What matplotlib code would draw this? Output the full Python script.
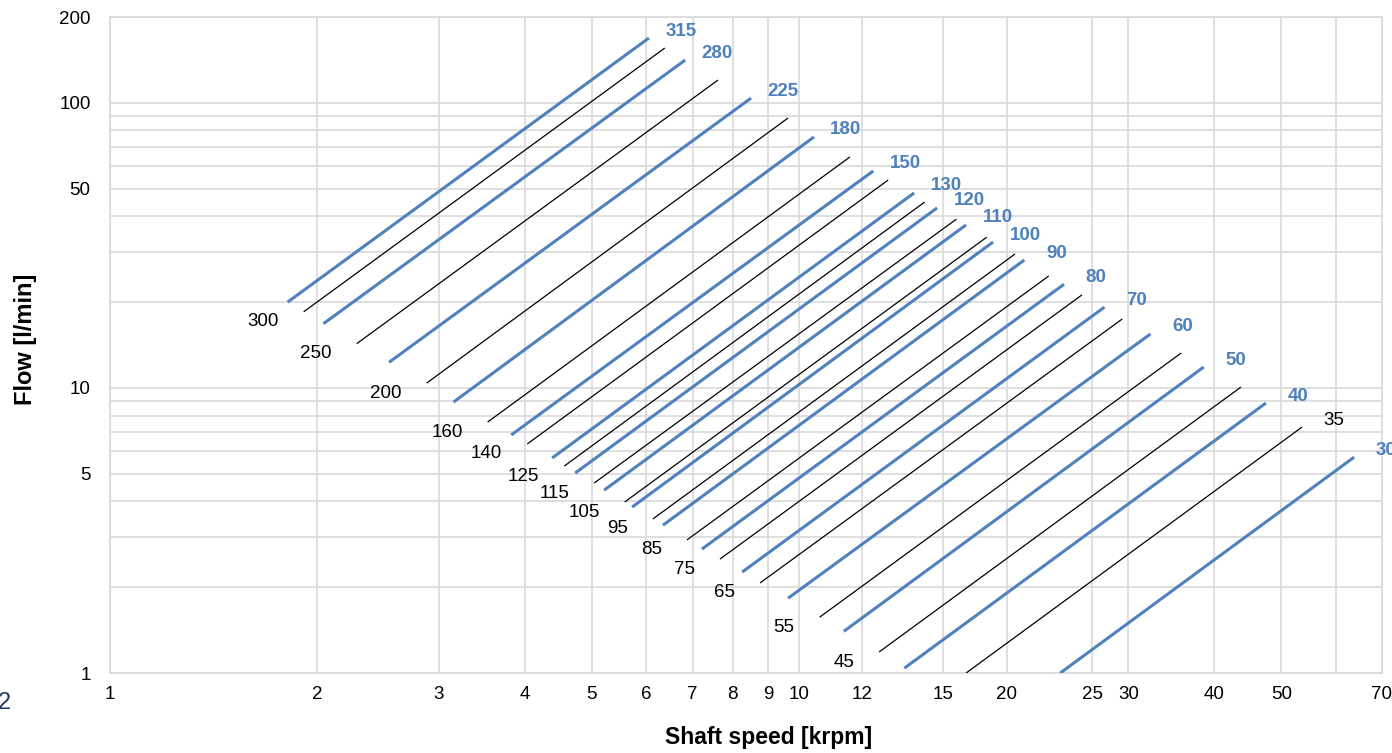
import matplotlib.pyplot as plt
from matplotlib.ticker import NullLocator

plt.rcParams['font.family'] = ['Liberation Sans', 'DejaVu Sans']

# pump sizes, one line each (left to right)
sizes = [315, 300, 280, 250, 225, 200, 180, 160, 150, 140, 130, 125, 120, 115, 110, 105,
         100, 95, 90, 85, 80, 75, 70, 65, 60, 55, 50, 45, 40, 35, 30]
# True -> thick blue line labelled at the top end, False -> thin black line
main_size = [True, False, True, False, True, False, True, False, True, False, True, False,
             True, False, True, False, True, False, True, False, True, False, True, False,
             True, False, True, False, True, False, True]
# label at the upper end ('end') or at the lower end ('start')
label_at = ['end', 'start', 'end', 'start', 'end', 'start', 'end', 'start', 'end', 'start',
            'end', 'start', 'end', 'start', 'end', 'start', 'end', 'start', 'end', 'start',
            'end', 'start', 'end', 'start', 'end', 'start', 'end', 'start', 'end', 'end', 'end']

# lower end of each line: shaft speed [krpm], flow [l/min]
start_speed = [1.81, 1.91, 2.04, 2.28, 2.54, 2.88, 3.15, 3.53, 3.82, 4.03, 4.38, 4.56, 4.73,
               5.04, 5.21, 5.58, 5.72, 6.13, 6.34, 6.87, 7.22, 7.67, 8.26, 8.77, 9.63, 10.7,
               11.6, 13.05, 14.2, 17.45, 23.9]
start_flow = [20.0, 18.5, 16.8, 14.3, 12.3, 10.4, 8.92, 7.59, 6.84, 6.36, 5.68, 5.32, 5.03,
              4.64, 4.38, 3.98, 3.82, 3.47, 3.30, 2.93, 2.72, 2.51, 2.26, 2.07, 1.83, 1.57,
              1.40, 1.185, 1.04, 1.0, 1.0]
# upper end of each line
end_speed = [6.05, 6.38, 6.83, 7.62, 8.51, 9.63, 10.5, 11.84, 12.8, 13.45, 14.67, 15.2, 15.84,
             16.9, 17.45, 18.7, 19.1, 20.55, 21.2, 23.0, 24.2, 25.7, 27.7, 29.4, 32.3, 35.8,
             38.6, 43.7, 47.5, 53.6, 63.8]
end_flow = [168.8, 155.7, 141.3, 120.2, 103.9, 88.5, 75.9, 64.6, 57.7, 53.6, 48.3, 44.9, 42.8,
            39.1, 37.3, 33.8, 32.5, 29.5, 28.1, 24.7, 23.1, 21.2, 19.2, 17.45, 15.46, 13.26,
            11.84, 10.07, 8.85, 7.29, 5.72]

x_grid = [1, 2, 3, 4, 5, 6, 7, 8, 9, 10, 12.33, 16.16, 20, 26.6, 30, 40, 50, 60, 70]
x_labels = ['1', '2', '3', '4', '5', '6', '7', '8', '9', '10', '12', '15', '20', '25', '30',
            '40', '50', '', '70']
y_grid = [1, 2, 3, 4, 5, 6, 7, 8, 9, 10, 20, 30, 40, 50, 60, 70, 80, 90, 100, 200]
y_labels = ['1', '', '', '', '5', '', '', '', '', '10', '', '', '', '50', '', '', '', '',
            '100', '200']

blue = '#4f81bd'
grid_col = '#d9d9d9'

fig = plt.figure(figsize=(13.92, 7.53), dpi=100)
ax = fig.add_axes([0.0790, 0.1062, 0.9138, 0.8712])
ax.set_xscale('log')
ax.set_yscale('log')
ax.set_xlim(1, 70)
ax.set_ylim(1, 200)

for i, s in enumerate(sizes):
    col = blue if main_size[i] else 'black'
    lw = 2.2 if main_size[i] else 0.9
    ax.plot([start_speed[i], end_speed[i]], [start_flow[i], end_flow[i]],
            color=col, lw=lw, solid_capstyle='butt', zorder=3)
    if label_at[i] == 'end':
        ax.annotate(str(s), (end_speed[i], end_flow[i]), xytext=(32, 7),
                    textcoords='offset pixels', ha='center', va='center',
                    fontsize=13.5, color=col,
                    fontweight='bold' if main_size[i] else 'normal',
                    annotation_clip=False)
    else:
        ax.annotate(str(s), (start_speed[i], start_flow[i]), xytext=(-25, -10),
                    textcoords='offset pixels', ha='right', va='center',
                    fontsize=13.5, color=col)

ax.set_xticks(x_grid, x_labels)
ax.set_yticks(y_grid, y_labels)
ax.xaxis.set_minor_locator(NullLocator())
ax.yaxis.set_minor_locator(NullLocator())
ax.tick_params(axis='both', length=0, labelsize=13.5)
ax.tick_params(axis='x', pad=9)
ax.tick_params(axis='y', pad=14)
ax.grid(True, color=grid_col, lw=1.2)
ax.set_axisbelow(True)
for sp in ax.spines.values():
    sp.set_color(grid_col)
    sp.set_linewidth(1.2)

ax.set_xlabel('Shaft speed [krpm]', fontsize=16.5, fontweight='bold')
ax.set_ylabel('Flow [l/min]', fontsize=17, fontweight='bold')
ax.xaxis.set_label_coords(0.518, -0.081)
ax.yaxis.set_label_coords(-0.0574, 0.509)

fig.text(4 / 1392, 1 - 703 / 753, '2', fontsize=17, color='#1f3864', ha='center', va='center')

fig.savefig('out.png', dpi=100)
